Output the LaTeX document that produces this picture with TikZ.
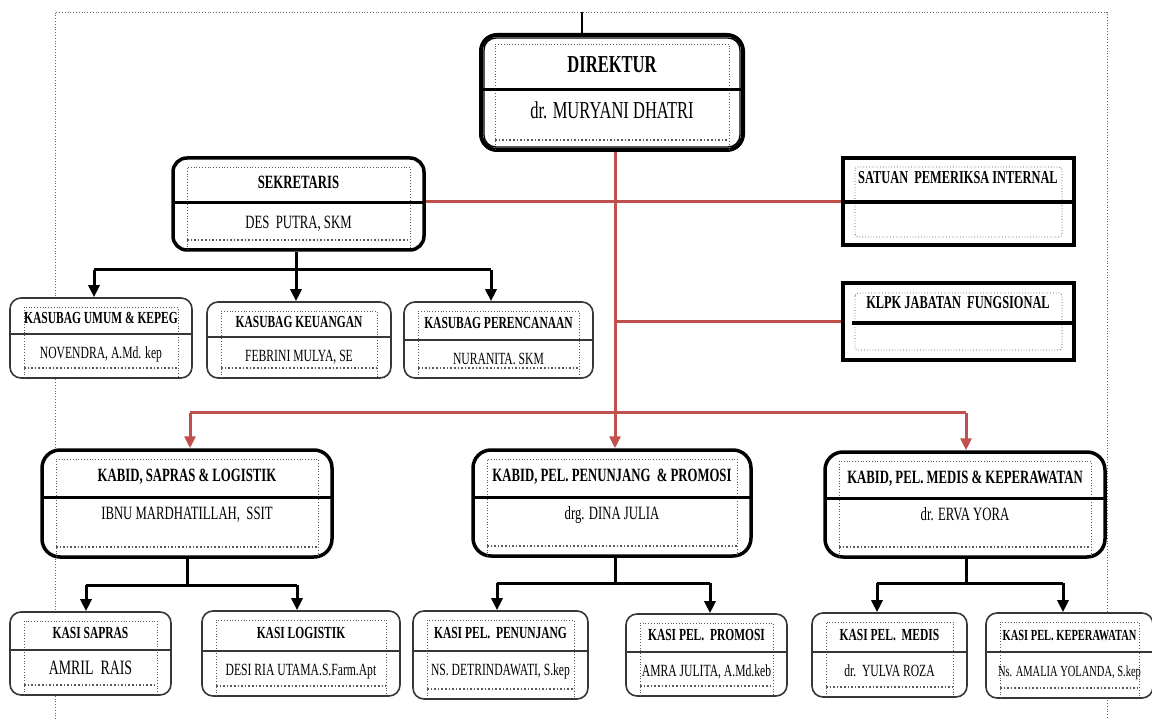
\documentclass[tikz,border=0pt]{standalone}
\usepackage{fontspec}
\setmainfont[FakeStretch=0.68]{Liberation Serif}
\usetikzlibrary{arrows.meta}
\definecolor{redc}{RGB}{192,80,77}
\definecolor{boxgray}{RGB}{55,55,55}
\tikzset{
 txt/.style={inner sep=0pt, anchor=base},
 dotbox/.style={draw=black!65, dotted, line width=0.8pt},
 dotbot/.style={draw=black!65, dotted, line width=1.6pt},
 pageb/.style={draw=black!60, dotted, line width=0.8pt},
 dirbox/.style={rectangle, draw, line width=4pt, rounded corners=16pt, fill=white, inner sep=0pt},
 dirbox div/.style={draw, line width=3pt},
 dirbox title/.style={txt, font=\bfseries\fontsize{24.3}{26}\selectfont, yshift=-8pt},
 dirbox name/.style={txt, font=\fontsize{24.3}{26}\selectfont, yshift=-10pt},
 bigbox/.style={rectangle, draw, line width=3.5pt, rounded corners=14pt, fill=white, inner sep=0pt},
 bigbox div/.style={draw, line width=3pt},
 bigbox title/.style={txt, font=\bfseries\fontsize{18.75}{20}\selectfont, yshift=-6.2pt},
 bigbox name/.style={txt, font=\fontsize{18.75}{20}\selectfont, yshift=-6.2pt},
 kabid/.style={bigbox, rounded corners=18pt},
 kabid div/.style={bigbox div},
 kabid title/.style={bigbox title},
 kabid name/.style={txt, font=\fontsize{18.75}{20}\selectfont, yshift=-3.2pt},
 smallbox/.style={rectangle, draw=boxgray, line width=1.6pt, rounded corners=11pt, fill=white, inner sep=0pt},
 smallbox div/.style={draw=boxgray, line width=1.8pt},
 smallbox title/.style={txt, font=\bfseries\fontsize{16.9}{18}\selectfont, yshift=-5.6pt},
 smallbox name/.style={txt, font=\fontsize{17.1}{18}\selectfont, yshift=-5.6pt},
 sqbox/.style={rectangle, draw, line width=4pt, fill=white, inner sep=0pt},
 sqbox div/.style={draw, line width=3.5pt},
 sqbox title/.style={txt, font=\bfseries\fontsize{18.2}{20}\selectfont, yshift=-6pt},
 blk/.style={draw, line width=3pt},
 blkarr/.style={draw, line width=3pt, -{Triangle[width=11pt,length=12pt]}},
 redl/.style={draw=redc, line width=3pt},
 redarr/.style={draw=redc, line width=3pt, -{Triangle[width=11pt,length=12pt]}},
}
% #1 name, #2 style, #3 x1, #4 y1, #5 x2, #6 y2, #7 divider y, #8 title, #9 person
\newcommand\orgbox[9]{%
 \node[#2, minimum width={#5-#3}, minimum height={#6-#4}] (#1) at ({(#3+#5)/2},{(#4+#6)/2}) {};
 \draw[dotbox] ({#3+14},{#6}) -- ({#3+14},{#4+9}) -- ({#5-14},{#4+9}) -- ({#5-14},{#6});
 \draw[dotbot] ({#3+14},{#6-10}) -- ({#5-14},{#6-10});
 \draw[#2 div] ({#3},{#7}) -- ({#5},{#7});
 \node[#2 title] (#1-t) at ({(#3+#5)/2},{(#4+#7)/2+2}) {#8};
 \node[#2 name] (#1-n) at ({(#3+#5)/2},{#7+19}) {#9};
}
\begin{document}
\begin{tikzpicture}[x=1pt,y=-1pt]
\useasboundingbox (0,0) rectangle (1152,719);
\fill[white] (0,0) rectangle (1152,719);
% page frame
\draw[pageb] (55,719) -- (55,12) -- (1107,12) -- (1107,719);

% boxes
\orgbox{dir}{dirbox}{481}{35}{743}{150}{90}{DIREKTUR}{dr. MURYANI DHATRI}
\draw[line width=1.3pt, rounded corners=12pt] ([shift={(5pt,-5pt)}]dir.north west) rectangle ([shift={(-5pt,5pt)}]dir.south east);
\orgbox{sek}{bigbox}{173}{158}{424}{250}{203}{SEKRETARIS}{DES\ \ PUTRA, SKM}

\node[sqbox, minimum width=231, minimum height=87] (spi) at (958.5,201.5) {};
\draw[dotbox, rounded corners=3pt] (855,167) rectangle (1062,237);
\draw[sqbox div] (843,202) -- (1074,202);
\node[sqbox title] (spi-t) at (958,178) {SATUAN\ \ PEMERIKSA INTERNAL};

\node[sqbox, minimum width=231, minimum height=77] (klpk) at (958.5,321.5) {};
\draw[dotbox, rounded corners=3pt] (855,293) rectangle (1062,350);
\draw[sqbox div] (852,323) -- (1074,323);
\node[sqbox title] (klpk-t) at (958,303) {KLPK JABATAN\ \ FUNGSIONAL};

\orgbox{ksu}{smallbox}{10}{298}{192}{378}{334}{KASUBAG UMUM \& KEPEG}{NOVENDRA, A.Md. kep}
\orgbox{kke}{smallbox}{207}{302}{391}{378}{337}{KASUBAG KEUANGAN}{FEBRINI MULYA, SE}
\orgbox{kpe}{smallbox}{404}{302}{593}{378}{340}{KASUBAG PERENCANAAN}{NURANITA. SKM}

\orgbox{kb1}{kabid}{42}{450}{332}{557}{497}{KABID, SAPRAS \& LOGISTIK}{IBNU MARDHATILLAH,\ \ SSIT}
\orgbox{kb2}{kabid}{473}{450}{751}{556}{497}{KABID, PEL. PENUNJANG\ \ \& PROMOSI}{drg. DINA JULIA}
\orgbox{kb3}{kabid}{825}{452}{1105}{557}{498}{KABID, PEL. MEDIS \& KEPERAWATAN}{dr. ERVA YORA}

\orgbox{ks1}{smallbox}{10}{612}{171}{695}{650}{KASI SAPRAS}{\fontsize{20.4}{22}\selectfont AMRIL\ \ RAIS}
\orgbox{ks2}{smallbox}{202}{611}{400}{696}{651}{KASI LOGISTIK}{DESI RIA UTAMA.S.Farm.Apt}
\orgbox{ks3}{smallbox}{413}{611}{588}{699}{651}{KASI PEL.\ \ PENUNJANG}{NS. DETRINDAWATI, S.kep}
\orgbox{ks4}{smallbox}{626}{614}{787}{696}{652}{KASI PEL.\ \ PROMOSI}{AMRA JULITA, A.Md.keb}
\orgbox{ks5}{smallbox}{812}{613}{967}{697}{652}{KASI PEL.\ \ MEDIS}{dr.\ \ YULVA ROZA}
\orgbox{ks6}{smallbox}{986}{613}{1153}{698}{652}{\fontsize{15.4}{17}\selectfont KASI PEL. KEPERAWATAN}{\fontsize{15.4}{17}\selectfont Ns. AMALIA YOLANDA, S.kep}

% top line
\coordinate (topc) at (582,12);
\draw[line width=2.5pt] (topc) -- (topc |- dir.north);

% red lines
\coordinate (r1) at (615,202);
\coordinate (r2) at (615,322);
\coordinate (r3) at (615,413);
\coordinate (rl) at (190,413);
\coordinate (rr) at (966,413);
\draw[redl] (sek.east |- r1) -- (spi.west |- r1);
\draw[redl] (r2) -- (klpk.west |- r2);
\draw[redl] (dir.south -| r1) -- (r3);
\draw[redl] (rl) -- (rr);
\draw[redarr] (rl) -- (rl |- kb1.north);
\draw[redarr] (r3) -- (r3 |- kb2.north);
\draw[redarr] (rr) -- (rr |- kb3.north);

% sekretaris tree
\coordinate (sj) at (296,270);
\coordinate (sjl) at (94,270);
\coordinate (sjr) at (491,270);
\draw[blk] (sj |- sek.south) -- (sj);
\draw[blk] (sjl) -- (sjr);
\draw[blkarr] (sjl) -- (sjl |- ksu.north);
\draw[blkarr] (sj) -- (sj |- kke.north);
\draw[blkarr] (sjr) -- (sjr |- kpe.north);

% kabid trees
\coordinate (j1) at (187,585);
\coordinate (j1l) at (86,585);
\coordinate (j1r) at (297,585);
\draw[blk] (j1 |- kb1.south) -- (j1);
\draw[blk] (j1l) -- (j1r);
\draw[blkarr] (j1l) -- (j1l |- ks1.north);
\draw[blkarr] (j1r) -- (j1r |- ks2.north);

\coordinate (j2) at (615,583);
\coordinate (j2l) at (497,583);
\coordinate (j2r) at (710,583);
\draw[blk] (j2 |- kb2.south) -- (j2);
\draw[blk] (j2l) -- (j2r);
\draw[blkarr] (j2l) -- (j2l |- ks3.north);
\draw[blkarr] (j2r) -- (j2r |- ks4.north);

\coordinate (j3) at (966,583);
\coordinate (j3l) at (877,583);
\coordinate (j3r) at (1063,583);
\draw[blk] (j3 |- kb3.south) -- (j3);
\draw[blk] (j3l) -- (j3r);
\draw[blkarr] (j3l) -- (j3l |- ks5.north);
\draw[blkarr] (j3r) -- (j3r |- ks6.north);
\end{tikzpicture}
\end{document}
